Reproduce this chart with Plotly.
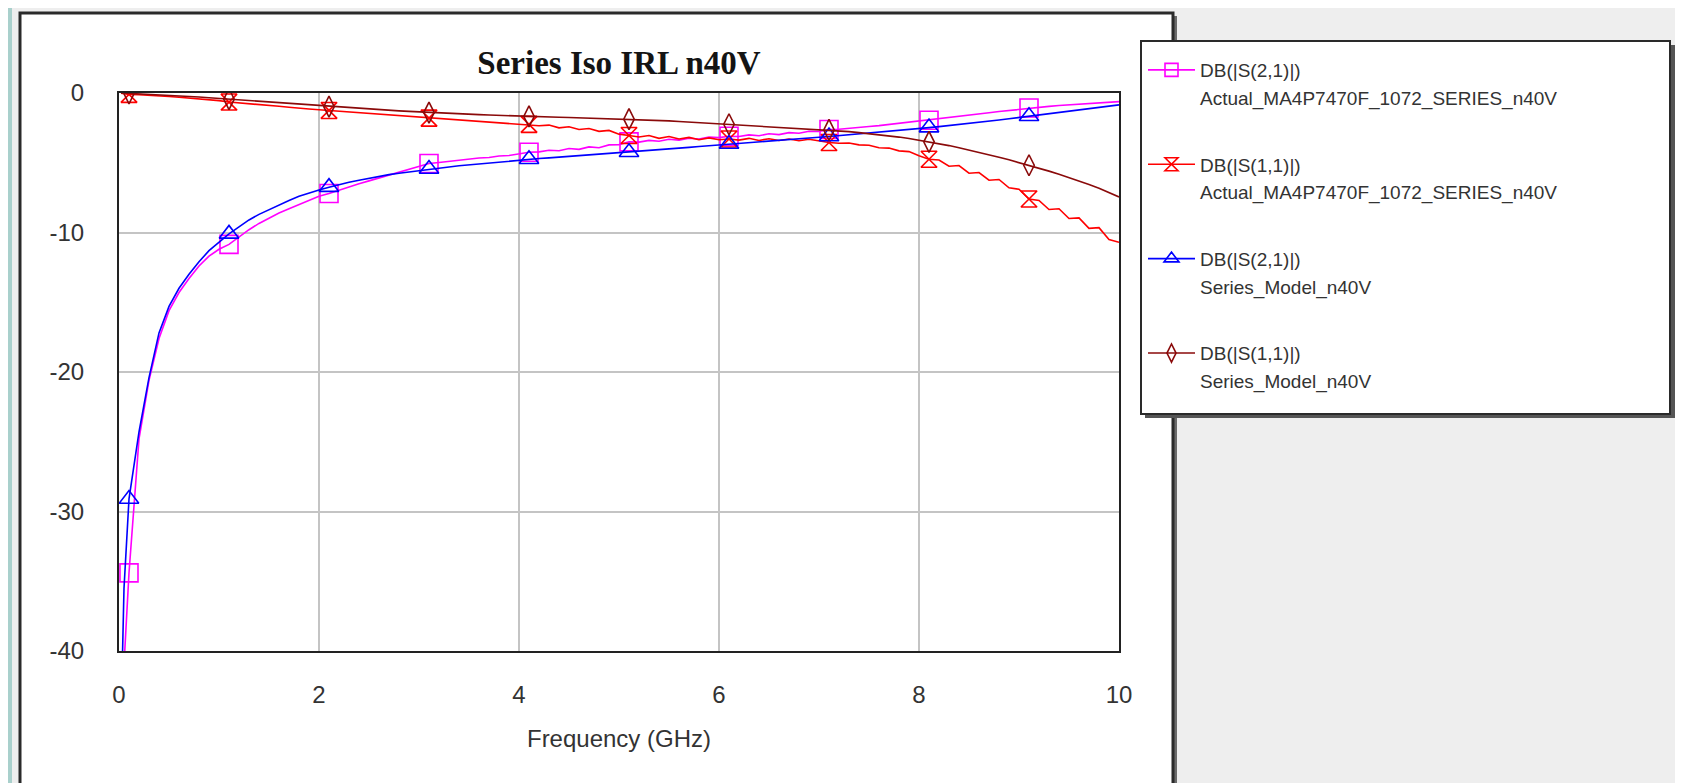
import plotly.graph_objects as go

# ---------------- data ----------------
freq_ghz = [0.02, 0.05,
            0.1, 0.2, 0.3, 0.4, 0.5, 0.6, 0.7, 0.8, 0.9, 1.0,
            1.1, 1.2, 1.3, 1.4, 1.5, 1.6, 1.7, 1.8, 1.9, 2.0,
            2.1, 2.2, 2.3, 2.4, 2.5, 2.6, 2.7, 2.8, 2.9, 3.0,
            3.1, 3.2, 3.3, 3.4, 3.5, 3.6, 3.7, 3.8, 3.9, 4.0,
            4.1, 4.2, 4.3, 4.4, 4.5, 4.6, 4.7, 4.8, 4.9, 5.0,
            5.1, 5.2, 5.3, 5.4, 5.5, 5.6, 5.7, 5.8, 5.9, 6.0,
            6.1, 6.2, 6.3, 6.4, 6.5, 6.6, 6.7, 6.8, 6.9, 7.0,
            7.1, 7.2, 7.3, 7.4, 7.5, 7.6, 7.7, 7.8, 7.9, 8.0,
            8.1, 8.2, 8.3, 8.4, 8.5, 8.6, 8.7, 8.8, 8.9, 9.0,
            9.1, 9.2, 9.3, 9.4, 9.5, 9.6, 9.7, 9.8, 9.9, 10.0]

s21_actual = [-52.0, -41.0,
              -34.4, -24.8, -20.6, -17.6, -15.6, -14.3, -13.3, -12.4, -11.7, -11.2,
              -10.85, -10.3, -9.8, -9.35, -8.95, -8.6, -8.3, -8.0, -7.7, -7.4,
              -7.2, -6.95, -6.7, -6.5, -6.3, -6.1, -5.9, -5.7, -5.5, -5.3,
              -5.05, -4.98, -4.9, -4.8, -4.75, -4.66, -4.62, -4.52, -4.48, -4.38,
              -4.25, -4.22, -4.1, -4.14, -3.98, -4.04, -3.86, -3.92, -3.72, -3.7,
              -3.5, -3.52, -3.4, -3.46, -3.32, -3.38, -3.24, -3.3, -3.16, -3.2,
              -3.1, -3.12, -3.0, -3.06, -2.92, -2.98, -2.84, -2.88, -2.74, -2.76,
              -2.62, -2.6, -2.52, -2.48, -2.4, -2.34, -2.26, -2.18, -2.1, -2.02,
              -1.95, -1.86, -1.78, -1.68, -1.6, -1.5, -1.42, -1.33, -1.25, -1.16,
              -1.08, -1.02, -0.96, -0.9, -0.85, -0.8, -0.75, -0.7, -0.66, -0.62]

s11_actual = [-0.02, -0.05,
              -0.1, -0.12, -0.15, -0.2, -0.25, -0.3, -0.35, -0.42, -0.5, -0.55,
              -0.65, -0.7, -0.78, -0.85, -0.9, -0.95, -1.02, -1.1, -1.15, -1.2,
              -1.25, -1.3, -1.38, -1.42, -1.48, -1.55, -1.58, -1.65, -1.7, -1.75,
              -1.8, -1.85, -1.88, -1.95, -1.98, -2.05, -2.08, -2.12, -2.15, -2.2,
              -2.25, -2.35, -2.3, -2.5, -2.42, -2.62, -2.55, -2.75, -2.68, -2.95,
              -3.05, -3.15, -3.05, -3.25, -3.12, -3.3, -3.18, -3.35, -3.22, -3.35,
              -3.3, -3.38, -3.25, -3.4, -3.28, -3.4, -3.3, -3.42, -3.32, -3.45,
              -3.55, -3.6, -3.58, -3.72, -3.75, -3.92, -3.95, -4.15, -4.2, -4.5,
              -4.75, -4.8, -5.25, -5.2, -5.75, -5.7, -6.25, -6.2, -6.8, -6.9,
              -7.6, -7.7, -8.35, -8.3, -9.0, -8.95, -9.7, -9.65, -10.5, -10.7]

s21_model = [-45.0, -35.5,
             -29.1, -24.3, -20.4, -17.2, -15.3, -14.0, -13.0, -12.1, -11.3, -10.7,
             -10.1, -9.6, -9.1, -8.7, -8.35, -8.0, -7.7, -7.4, -7.15, -6.95,
             -6.75, -6.55, -6.4, -6.25, -6.1, -5.97, -5.85, -5.75, -5.65, -5.55,
             -5.45, -5.37, -5.3, -5.22, -5.15, -5.08, -5.02, -4.95, -4.88, -4.82,
             -4.75, -4.7, -4.65, -4.6, -4.55, -4.5, -4.45, -4.4, -4.35, -4.3,
             -4.25, -4.2, -4.14, -4.08, -4.02, -3.96, -3.9, -3.84, -3.78, -3.72,
             -3.66, -3.6, -3.54, -3.48, -3.42, -3.37, -3.32, -3.27, -3.22, -3.17,
             -3.12, -3.06, -3.0, -2.94, -2.88, -2.82, -2.76, -2.69, -2.62, -2.55,
             -2.48, -2.41, -2.34, -2.26, -2.18, -2.1, -2.02, -1.94, -1.85, -1.76,
             -1.67, -1.58, -1.5, -1.42, -1.34, -1.25, -1.15, -1.05, -0.95, -0.85]

s11_model = [-0.0, -0.01,
             -0.02, -0.04, -0.07, -0.11, -0.15, -0.19, -0.24, -0.29, -0.34, -0.39,
             -0.44, -0.5, -0.55, -0.61, -0.66, -0.72, -0.77, -0.83, -0.88, -0.93,
             -0.98, -1.03, -1.07, -1.12, -1.16, -1.2, -1.24, -1.28, -1.32, -1.36,
             -1.4, -1.43, -1.46, -1.49, -1.52, -1.55, -1.58, -1.61, -1.63, -1.66,
             -1.68, -1.7, -1.72, -1.74, -1.76, -1.78, -1.8, -1.82, -1.84, -1.86,
             -1.88, -1.91, -1.94, -1.97, -2.0, -2.04, -2.08, -2.12, -2.16, -2.2,
             -2.24, -2.28, -2.32, -2.36, -2.4, -2.44, -2.48, -2.52, -2.56, -2.6,
             -2.65, -2.71, -2.77, -2.84, -2.91, -2.99, -3.07, -3.16, -3.26, -3.38,
             -3.5, -3.63, -3.77, -3.92, -4.08, -4.25, -4.42, -4.6, -4.79, -4.98,
             -5.18, -5.38, -5.6, -5.82, -6.05, -6.3, -6.56, -6.83, -7.12, -7.45]

x_ticks = [0, 2, 4, 6, 8, 10]
x_tick_labels = ["0", "2", "4", "6", "8", "10"]
y_ticks = [0, -10, -20, -30, -40]
y_tick_labels = ["0", "-10", "-20", "-30", "-40"]

series_line1 = ["DB(|S(2,1)|)", "DB(|S(1,1)|)", "DB(|S(2,1)|)", "DB(|S(1,1)|)"]
series_line2 = ["Actual_MA4P7470F_1072_SERIES_n40V", "Actual_MA4P7470F_1072_SERIES_n40V",
                "Series_Model_n40V", "Series_Model_n40V"]
series_values = [s21_actual, s11_actual, s21_model, s11_model]

# ---------------- styles ----------------
colors = ["#ff00ff", "#ff0000", "#0000ff", "#8a0a0a"]
symbols = ["square-open", "hourglass-open", "triangle-up-open", "diamond-tall-open"]
msizes = [18, 16, 17, 15]

W, H = 1683, 783
PL, PR, PT, PB = 111, 1111, 85, 643


def px(x):
    return (x - PL) / (PR - PL)


def py(y):
    return (PB - y) / (PB - PT)


# marker every 1 GHz starting at 0.1 GHz (indices into freq_ghz)
marker_idx = list(range(2, len(freq_ghz) - 1, 10))

fig = go.Figure()
for i, vals in enumerate(series_values):
    fig.add_trace(go.Scatter(
        x=freq_ghz, y=vals, mode="lines", showlegend=False, hoverinfo="skip",
        line=dict(color=colors[i], width=1.6)))
    fig.add_trace(go.Scatter(
        x=[freq_ghz[k] for k in marker_idx], y=[vals[k] for k in marker_idx],
        mode="markers", showlegend=False, hoverinfo="skip", cliponaxis=True,
        marker=dict(symbol=symbols[i], size=msizes[i], color=colors[i],
                    line=dict(color=colors[i], width=1.6))))

# legend entries (two lines per series)
for i in range(4):
    fig.add_trace(go.Scatter(
        x=[None], y=[None], mode="lines+markers", name=series_line1[i],
        legendgroup="g%d" % i,
        line=dict(color=colors[i], width=1.6),
        marker=dict(symbol=symbols[i], size=13, color=colors[i],
                    line=dict(color=colors[i], width=1.6))))
    fig.add_trace(go.Scatter(
        x=[None], y=[None], mode="lines", name=series_line2[i],
        legendgroup="g%d" % i,
        line=dict(color="rgba(0,0,0,0)", width=0)))

shapes = [
    # teal strip at the very left edge
    dict(type="rect", xref="paper", yref="paper", x0=px(0), x1=px(4), y0=py(H), y1=py(0),
         fillcolor="#a9d0cc", line=dict(width=0), layer="below"),
    # chart frame shadow + frame
    dict(type="rect", xref="paper", yref="paper", x0=px(15), x1=px(1169), y0=py(H), y1=py(8),
         fillcolor="#6a6a6a", line=dict(width=0), layer="below"),
    dict(type="rect", xref="paper", yref="paper", x0=px(12), x1=px(1165), y0=py(779), y1=py(5),
         fillcolor="white", line=dict(color="#2a2a2a", width=3), layer="below"),
    # legend box shadow + box
    dict(type="rect", xref="paper", yref="paper", x0=px(1137), x1=px(1667), y0=py(410), y1=py(37),
         fillcolor="#555555", line=dict(width=0), layer="below"),
    dict(type="rect", xref="paper", yref="paper", x0=px(1133), x1=px(1662), y0=py(406), y1=py(33),
         fillcolor="white", line=dict(color="#2a2a2a", width=2), layer="below"),
]

axis_common = dict(
    showgrid=True, gridcolor="#c4c4c4", gridwidth=1.5,
    showline=True, linecolor="#222222", linewidth=2, mirror=True,
    zeroline=False, ticks="", automargin=False,
    tickfont=dict(family="Liberation Sans", size=24, color="#333333"),
)

fig.update_layout(
    width=W, height=H,
    margin=dict(l=PL, r=W - PR, t=PT, b=H - PB, pad=0),
    paper_bgcolor="#eeeeee", plot_bgcolor="white",
    title=dict(text="Series Iso IRL n40V", x=0.5, xref="paper", xanchor="center",
               y=1 - 54 / H, yref="container", yanchor="middle",
               font=dict(family="Liberation Serif", size=33, color="#141414", weight="bold")),
    xaxis=dict(range=[0, 10], tickvals=x_ticks, ticktext=x_tick_labels, ticklabelstandoff=21,
               title=dict(text="Frequency (GHz)", standoff=23,
                          font=dict(family="Liberation Sans", size=24, color="#333333")),
               **axis_common),
    yaxis=dict(range=[-40, 0], tickvals=y_ticks, ticktext=y_tick_labels, ticklabelstandoff=28,
               **axis_common),
    legend=dict(xref="container", yref="container", x=1135 / W, y=1 - 43 / H,
                xanchor="left", yanchor="top", bgcolor="rgba(0,0,0,0)", borderwidth=0,
                font=dict(family="Liberation Sans", size=19, color="#333333"),
                tracegroupgap=39, traceorder="grouped", itemwidth=47),
    shapes=shapes,
    showlegend=True,
)

fig.write_html("out.html")
